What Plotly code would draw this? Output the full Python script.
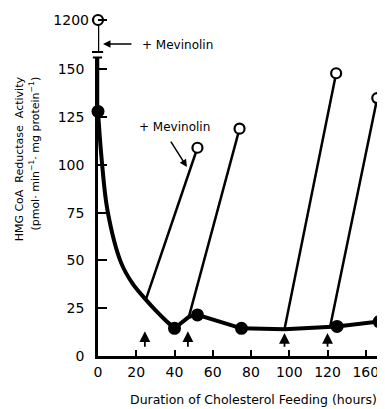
import plotly.graph_objects as go

# ---- data ----
curve_x = [0, 2, 5, 12, 18, 25, 30, 35, 40]
curve_y = [128, 102, 76, 49, 38, 29.5, 24, 19, 14.5]
seg_x = [40, 47.5, 52, 75, 97.5, 122, 125, 147]
seg_y = [14.5, 20.5, 21.5, 14.5, 14, 15.7, 15.5, 18]
filled_x = [0, 40, 52, 75, 125, 147]
filled_y = [128, 14.5, 21.5, 14.5, 15.5, 18]
mev_start_x = [0, 25, 47.5, 97.5, 121.5]
mev_start_y = [128, 29.5, 20.5, 14, 16]
open_x = [0, 52, 74, 124.5, 146]
open_y = [1200, 109, 119, 148, 135]
arrow_x = [24.5, 47, 97.5, 120]
arrow_tip = [13, 13, 12, 12]
arrow_tail = [4, 4, 4, 4]
xtick_vals = [0, 20, 40, 60, 80, 100, 120, 140]
xtick_text = ["0", "20", "40", "60", "80", "100", "120", "160"]
ytick_low = [0, 25, 50, 75, 100, 125, 150]
ytick_high = [1200]

FONT = "DejaVu Sans"

fig = go.Figure()

# mevinolin segments (start -> open circle)
mx, my = [], []
for x0, y0, x1, y1 in zip(mev_start_x, mev_start_y, open_x, open_y):
    mx += [x0, x1, None]
    my += [y0, y1, None]

for ya in ["y", "y2"]:
    xa = "x" if ya == "y" else "x2"
    fig.add_trace(go.Scatter(x=mx, y=my, mode="lines", xaxis=xa, yaxis=ya,
                             line=dict(color="black", width=2.5), showlegend=False,
                             hoverinfo="skip"))

fig.add_trace(go.Scatter(x=curve_x, y=curve_y, mode="lines", line_shape="spline",
                         line=dict(color="black", width=4), showlegend=False))
fig.add_trace(go.Scatter(x=seg_x, y=seg_y, mode="lines",
                         line=dict(color="black", width=4), showlegend=False))
fig.add_trace(go.Scatter(x=filled_x, y=filled_y, mode="markers",
                         marker=dict(color="black", size=13), showlegend=False,
                         cliponaxis=False))
for ya in ["y", "y2"]:
    xa = "x" if ya == "y" else "x2"
    fig.add_trace(go.Scatter(x=open_x, y=open_y, mode="markers", xaxis=xa, yaxis=ya,
                             marker=dict(color="white", size=10,
                                         line=dict(color="black", width=2.2)),
                             showlegend=False, cliponaxis=False))

annotations = []
for ax_, tip, tail in zip(arrow_x, arrow_tip, arrow_tail):
    annotations.append(dict(x=ax_, y=tip, ax=ax_, ay=tail, xref="x", yref="y",
                            axref="x", ayref="y", text="", showarrow=True,
                            arrowhead=2, arrowsize=1.2, arrowwidth=1.8,
                            arrowcolor="black"))

# "+ Mevinolin" labels
annotations.append(dict(x=0.0175, y=0.902, xref="paper", yref="paper", text="",
                        showarrow=True, ax=30, ay=0, arrowhead=2, arrowsize=1,
                        arrowwidth=1.5, arrowcolor="black"))
annotations.append(dict(x=0.147, y=0.899, xref="paper", yref="paper",
                        text="+ Mevinolin", showarrow=False, xanchor="left",
                        yanchor="middle", font=dict(family=FONT, size=12, color="black")))
annotations.append(dict(x=0.312, y=0.546, xref="paper", yref="paper", text="",
                        showarrow=True, ax=-17, ay=-27, arrowhead=2, arrowsize=1,
                        arrowwidth=1.5, arrowcolor="black"))
annotations.append(dict(x=0.267, y=0.662, xref="paper", yref="paper",
                        text="+ Mevinolin", showarrow=False, xanchor="center",
                        yanchor="middle", font=dict(family=FONT, size=12, color="black")))
# axis titles
annotations.append(dict(x=-0.274, y=0.571, xref="paper", yref="paper",
                        text="HMG CoA  Reductase  Activity", textangle=-90,
                        xanchor="center", yanchor="middle",
                        showarrow=False, font=dict(family=FONT, size=11, color="black")))
annotations.append(dict(x=-0.221, y=0.585, xref="paper", yref="paper",
                        text="(pmol· min<sup>−1</sup>· mg protein<sup>−1</sup>)", textangle=-90,
                        xanchor="center", yanchor="middle",
                        showarrow=False, font=dict(family=FONT, size=11, color="black")))
annotations.append(dict(x=0.544, y=-0.127, xref="paper", yref="paper",
                        text="Duration of Cholesterol Feeding (hours)",
                        xanchor="center", yanchor="middle",
                        showarrow=False, font=dict(family=FONT, size=12.5, color="black")))

# axis break marks
shapes = [
    dict(type="line", xref="paper", yref="paper", x0=-0.021, x1=0.018,
         y0=(356 - 52) / 346, y1=(356 - 52) / 346, line=dict(color="black", width=2)),
    dict(type="line", xref="paper", yref="paper", x0=-0.018, x1=0.014,
         y0=(356 - 57.5) / 346, y1=(356 - 57.5) / 346, line=dict(color="black", width=2)),
]

tickfont = dict(family=FONT, size=14, color="black")
# page body has an 8px margin, so the figure is 8px smaller and shifted
fig.update_layout(
    width=377, height=401,
    margin=dict(l=90, r=2, t=2, b=53, autoexpand=False),
    paper_bgcolor="white", plot_bgcolor="white",
    showlegend=False,
    annotations=annotations, shapes=shapes,
    xaxis=dict(range=[0, 149], domain=[0, 1], anchor="y", tickvals=xtick_vals,
               ticktext=xtick_text, ticks="inside", ticklen=6, tickwidth=2,
               tickcolor="black", showline=True, linewidth=2.5, linecolor="black",
               showgrid=False, zeroline=False, tickfont=tickfont,
               ticklabelstandoff=1, automargin=False),
    yaxis=dict(range=[0, 156.5], domain=[0, (356 - 57) / 346], anchor="x",
               tickvals=ytick_low, ticks="inside", ticklen=9, tickwidth=2,
               tickcolor="black", showline=True, linewidth=2.5, linecolor="black",
               showgrid=False, zeroline=False, tickfont=tickfont,
               ticklabelstandoff=8, automargin=False),
    xaxis2=dict(range=[0, 149], domain=[0, 1], anchor="y2", matches="x",
                visible=False),
    yaxis2=dict(range=[1168, 1210], domain=[(356 - 52) / 346, 1], anchor="x2",
                tickvals=ytick_high, ticks="inside", ticklen=9, tickwidth=2,
                tickcolor="black", showline=False, showgrid=False, zeroline=False,
                tickfont=tickfont, ticklabelstandoff=8, automargin=False),
)

fig.write_html("out.html")
